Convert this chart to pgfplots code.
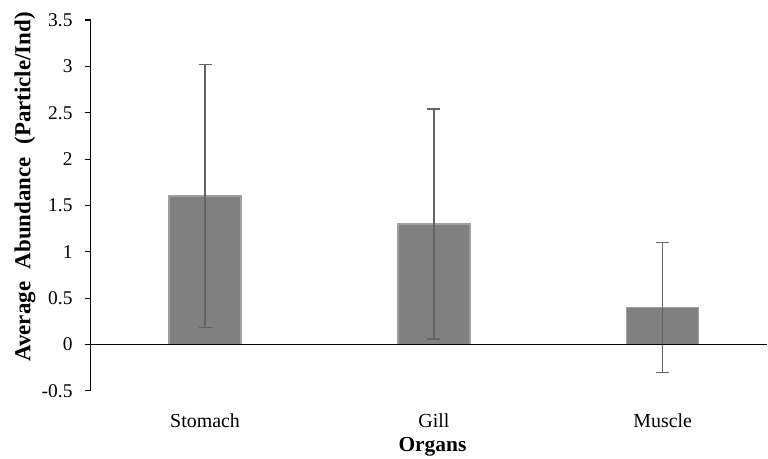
\documentclass[border=0pt]{standalone}
\usepackage{fontspec}
\setmainfont{Liberation Serif}
\usepackage{pgfplots}
\usepackage{pgfplotstable}
\pgfplotsset{compat=1.18}

\definecolor{barfill}{HTML}{808080}
\definecolor{barline}{HTML}{A0A0A0}
\definecolor{errgray}{HTML}{646464}

% mean abundance per organ and its standard deviation
\pgfplotstableread{
x  y    e
0  1.60 1.42
1  1.30 1.24
2  0.40 0.70
}\organdata

\begin{document}
\begin{tikzpicture}
\begin{axis}[
  scale only axis,
  width=677bp, height=371bp,
  xmin=-0.5, xmax=2.458,
  ymin=-0.5, ymax=3.5,
  axis y line=left,
  axis x line=bottom,
  x axis line style={draw=none},
  y axis line style={-, black, line width=1.1bp},
  xtick={0,1,2},
  xticklabels={Stomach,Gill,Muscle},
  xtick style={draw=none},
  major x tick style={draw=none},
  ytick={-0.5,0,0.5,1,1.5,2,2.5,3,3.5},
  yticklabels={-0.5,0,0.5,1,1.5,2,2.5,3,3.5},
  tick align=outside,
  major tick length=6bp,
  ytick style={black, line width=1.1bp},
  yticklabel style={font=\fontsize{19.5}{22}\selectfont, anchor=east, inner sep=0pt, xshift=-12bp},
  xticklabel style={font=\fontsize{20}{22}\selectfont, anchor=base, inner sep=0pt, yshift=-31bp},
  xlabel={Organs},
  xlabel style={font=\bfseries\fontsize{21.5}{24}\selectfont, at={(axis description cs:0.505,0)}, anchor=base, inner sep=0pt, yshift=-61bp},
  ylabel={Average\hspace{0.55em}Abundance\hspace{0.55em}(Particle/Ind)},
  ylabel style={font=\bfseries\fontsize{23}{25}\selectfont, at={(axis description cs:-0.097,0.55)}, anchor=center, rotate=0, inner sep=0pt},
  clip=false,
]
\addplot[ybar, bar width=0.315, fill=barfill, draw=barline, line width=1.5bp,
  error bars/.cd, y dir=both, y explicit,
  error bar style={color=errgray, line width=1.3bp},
  error mark options={rotate=90, mark size=6.5bp, color=errgray, line width=1.3bp}]
  table[x=x, y=y, y error=e] {\organdata};
\draw[black, line width=1.1bp] (axis cs:-0.5,0) -- (axis cs:2.458,0);
\end{axis}
\path ([xshift=-90.7bp,yshift=-68bp]current axis.south west) rectangle ([yshift=20bp]current axis.north east);
\end{tikzpicture}
\end{document}
